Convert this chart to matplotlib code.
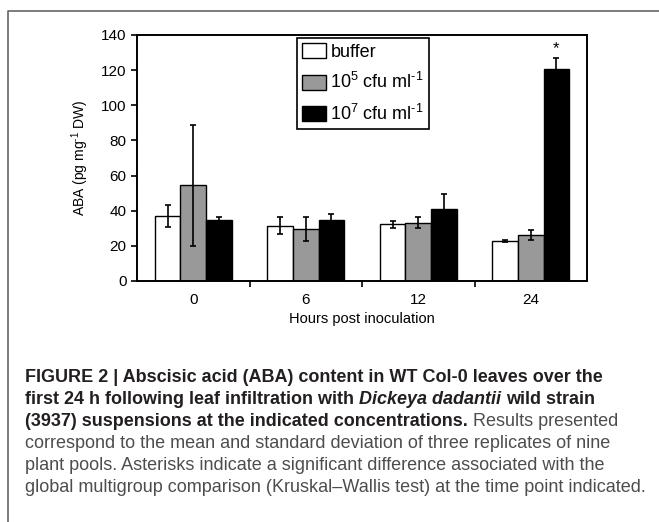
import matplotlib
matplotlib.use("Agg")
import matplotlib.pyplot as plt
import numpy as np
from matplotlib.lines import Line2D

plt.rcParams['font.family'] = ['Liberation Sans', 'DejaVu Sans']
plt.rcParams['mathtext.fontset'] = 'custom'
plt.rcParams['mathtext.rm'] = 'Liberation Sans'
plt.rcParams['mathtext.it'] = 'Liberation Sans:italic'

# data
hours = ['0', '6', '12', '24']
series = ['buffer', r'10$^5$ cfu ml$^{\text{-}1}$', r'10$^7$ cfu ml$^{\text{-}1}$']
buffer_mean = [37.0, 31.5, 32.3, 22.8]
buffer_sd = [6.0, 4.8, 2.0, 0.7]
low_mean = [54.5, 29.4, 33.2, 26.0]
low_sd = [34.5, 6.8, 3.2, 2.9]
high_mean = [34.7, 34.7, 40.8, 120.7]
high_sd = [2.0, 3.4, 8.9, 6.0]
signif = [False, False, False, True]

W, H = 659, 522
fig = plt.figure(figsize=(W / 100, H / 100), dpi=100)

# panel frame (left + top border)
fig.add_artist(Line2D([8 / W, 8 / W, 1.0], [0, 1 - 11 / H, 1 - 11 / H],
                      transform=fig.transFigure, color='#666666', lw=1.2))

ax = fig.add_axes([137 / W, 1 - 281 / H, 450 / W, 246 / H])
x = np.arange(len(hours))
bw = 0.227
colors = ['white', '#999999', 'black']
means = [buffer_mean, low_mean, high_mean]
sds = [buffer_sd, low_sd, high_sd]
for i, (m, s, c, lab) in enumerate(zip(means, sds, colors, series)):
    ax.bar(x + (i - 1) * bw, m, bw, color=c, edgecolor='black', linewidth=1.0,
           label=lab, zorder=2)
    ax.errorbar(x + (i - 1) * bw, m, yerr=s, fmt='none', ecolor='black',
                elinewidth=1.2, capsize=2.5, capthick=1.2, zorder=3)

for xi, hm, hs, sg in zip(x, high_mean, high_sd, signif):
    if sg:
        ax.text(xi + bw, hm + hs + 1.0, '*', ha='center', va='bottom', fontsize=12)

ax.set_xlim(-0.5, 3.5)
ax.set_ylim(0, 140)
ax.set_yticks(np.arange(0, 141, 20))
ax.set_xticks(x)
ax.set_xticklabels(hours, fontsize=11)
ax.set_xticks(np.arange(0.5, 3.0, 1.0), minor=True)
ax.tick_params(axis='x', which='major', length=0, pad=9)
ax.tick_params(axis='x', which='minor', length=4, width=1.2, direction='out')
ax.tick_params(axis='y', labelsize=11, length=4, width=1.2, direction='out')
for sp in ax.spines.values():
    sp.set_linewidth(1.4)
ax.set_xlabel('Hours post inoculation', fontsize=10.5, labelpad=3)
ax.set_ylabel(r'ABA (pg mg$^{\text{-}1}$ DW)', fontsize=10, labelpad=7)

leg = ax.legend(loc='upper left', bbox_to_anchor=(297 / W, 1 - 38 / H),
                bbox_transform=fig.transFigure, fontsize=13, frameon=True,
                fancybox=False, edgecolor='black', framealpha=1,
                borderpad=0.3, labelspacing=0.62, handlelength=1.3,
                handleheight=0.9, handletextpad=0.25, borderaxespad=0)
leg.get_frame().set_linewidth(1.2)

# caption, drawn segment by segment so bold/italic runs can mix
cap_fs = 13.0
bold_c = '#231f20'
reg_c = '#4d4d4d'
caption = [
    [("FIGURE 2 | Abscisic acid (ABA) content in WT Col-0 leaves over the", 'bold', 'normal')],
    [("first 24 h following leaf infiltration with", 'bold', 'normal'),
     ("Dickeya dadantii", 'bold', 'italic'),
     ("wild strain", 'bold', 'normal')],
    [("(3937) suspensions at the indicated concentrations.", 'bold', 'normal'),
     ("Results presented", 'normal', 'normal')],
    [("correspond to the mean and standard deviation of three replicates of nine", 'normal', 'normal')],
    [("plant pools. Asterisks indicate a significant difference associated with the", 'normal', 'normal')],
    [("global multigroup comparison (Kruskal\u2013Wallis test) at the time point indicated.", 'normal', 'normal')],
]
renderer = fig.canvas.get_renderer()


def text_w(s, weight, style):
    t = fig.text(0, 0, s, fontsize=cap_fs, fontweight=weight, fontstyle=style)
    w = t.get_window_extent(renderer).width
    t.remove()
    return w


y0 = 378
for li, segs in enumerate(caption):
    xp = 25
    yp = y0 + li * 22.0
    for s, weight, style in segs:
        t = fig.text(xp / W, 1 - yp / H, s, fontsize=cap_fs, fontweight=weight,
                     fontstyle=style, va='center', ha='left',
                     color=bold_c if weight == 'bold' else reg_c)
        w = t.get_window_extent(renderer).width
        sp = text_w('x x', weight, style) - text_w('xx', weight, style)
        xp += w + sp

fig.savefig('out.png', dpi=100)
